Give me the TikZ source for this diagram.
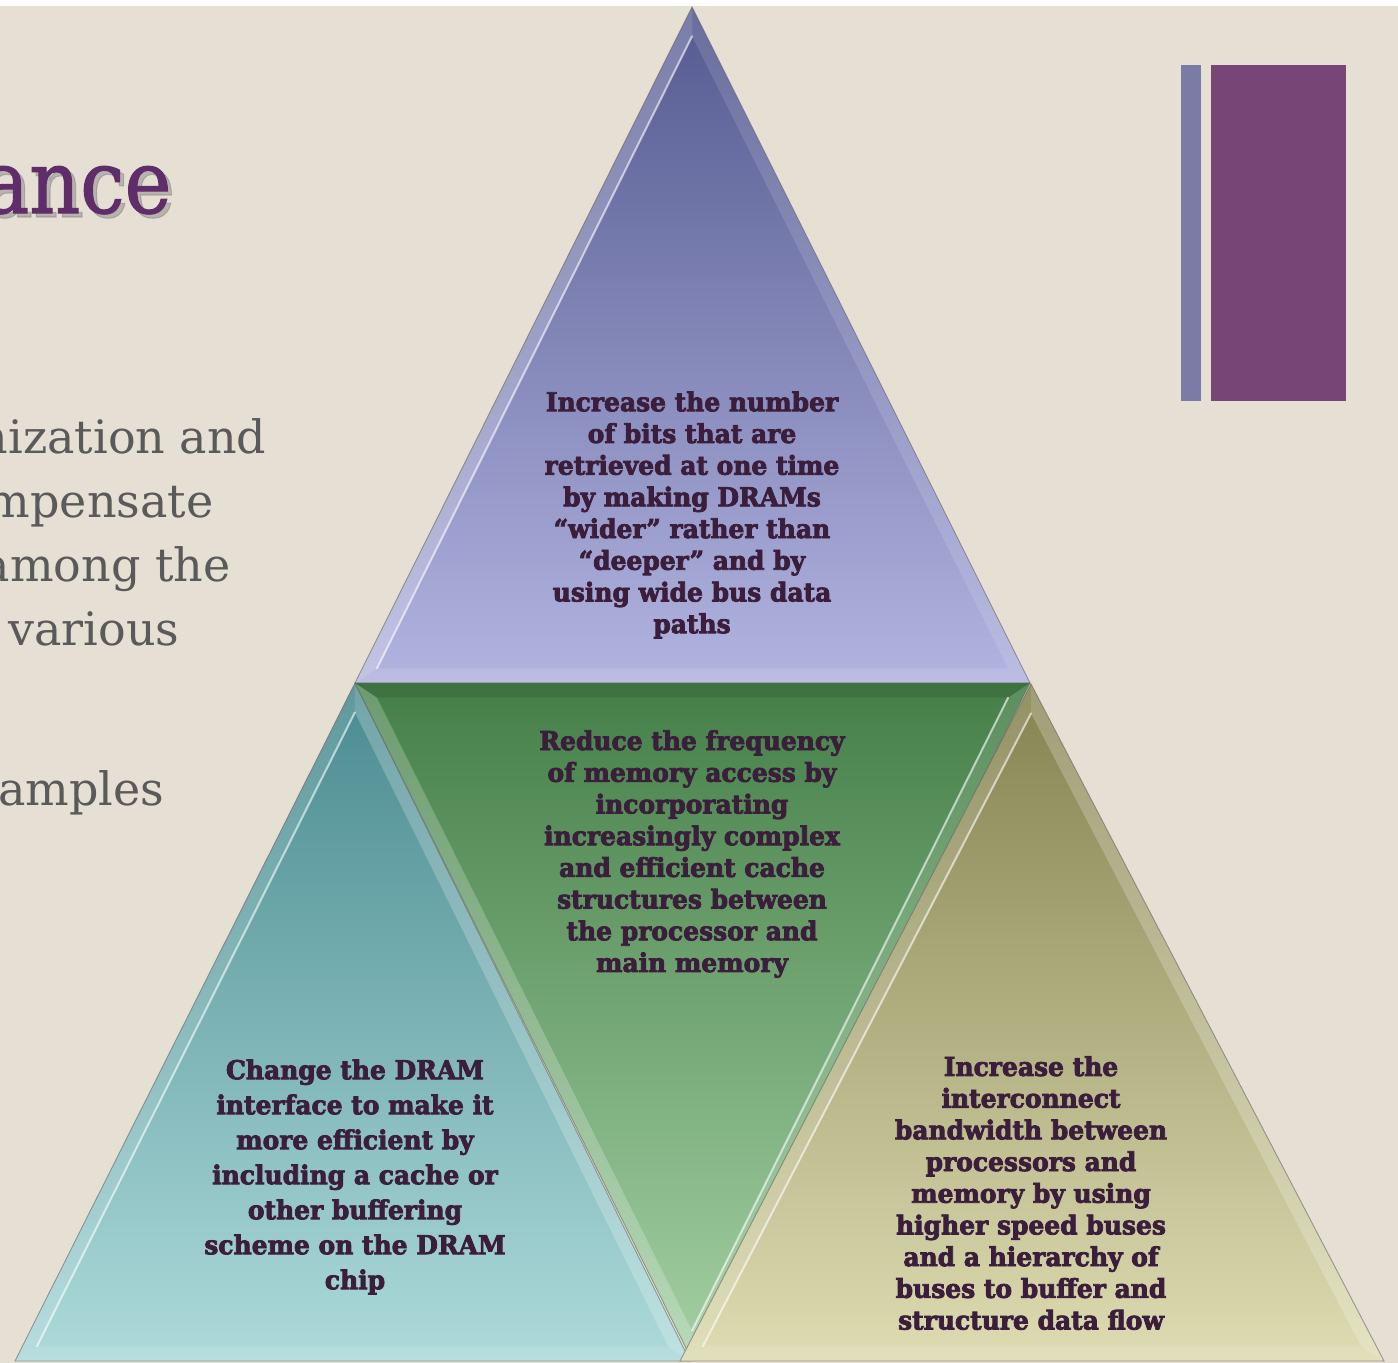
\documentclass[tikz,border=0pt]{standalone}
\usepackage{fontspec}
\setmainfont{DejaVu Serif}
\newfontfamily\trifont{DejaVu Serif}[FakeStretch=0.96, BoldFeatures={FakeBold=3}]
\newfontfamily\headfont{DejaVu Serif}[FakeStretch=0.9, FakeBold=1.2]
\usepackage{tikz}
\usetikzlibrary{calc, positioning}

\definecolor{paper}{HTML}{E6DFD3}
\definecolor{inkplum}{HTML}{3B1E3B}
\definecolor{slidegray}{HTML}{5A5A5A}
\definecolor{titleplum}{HTML}{5E2D6A}
\definecolor{barslate}{HTML}{7B7BA8}
\definecolor{barplum}{HTML}{774576}
\definecolor{topdark}{HTML}{545A90}
\definecolor{toplight}{HTML}{B2B4E0}
\definecolor{tealdark}{HTML}{4A8B90}
\definecolor{teallight}{HTML}{ADDADA}
\definecolor{greendark}{HTML}{457F48}
\definecolor{greenlight}{HTML}{A4D0A4}
\definecolor{olivedark}{HTML}{858350}
\definecolor{olivelight}{HTML}{DDDCB2}

\begin{document}
\begin{tikzpicture}[
    x=1pt, y=-1pt,
    edge/.style={draw=black!60, line width=0.9pt, draw opacity=0.6},
    facelight/.style={fill=white, fill opacity=0.22},
    facesoft/.style={fill=white, fill opacity=0.12},
    facedark/.style={fill=black, fill opacity=0.10},
    shine/.style={draw=white, line width=2pt, draw opacity=0.6, line cap=round},
    tritext/.style={text=inkplum, align=center, font=\trifont\bfseries\fontsize{26}{31.7}\selectfont},
    bodytext/.style={text=slidegray, font=\fontsize{46}{64}\selectfont},
    titletext/.style={font=\headfont\fontsize{88}{100}\selectfont}
]
    \useasboundingbox (0,0) rectangle (1398,1363);
    \clip (0,0) rectangle (1398,1363);

    % Background
    \fill[paper] (0,0) rectangle (1398,1363);
    \fill[white] (0,0) rectangle (1398,6);

    % ========== Slide text (cut at the left) ==========
    \node (title_shadow) [titletext, text=black!55, opacity=0.4, anchor=base east] at (179,217) {ance};
    \node (title) [titletext, text=titleplum, anchor=base east] at (175,213) {ance};
    \node (line_a) [bodytext, anchor=base east] at (270,453) {nization and};
    \node (line_b) [bodytext, anchor=base east] at (217,517) {mpensate};
    \node (line_c) [bodytext, anchor=base east] at (234,581) {among the};
    \node (line_d) [bodytext, anchor=base east] at (183,645) {various};
    \node (line_e) [bodytext, anchor=base east] at (168,805) {amples};

    % ========== Corner bars ==========
    \fill[barslate] (1181,65) rectangle (1201,401);
    \fill[barplum] (1211,65) rectangle (1346,401);

    % ========== Top triangle ==========
    \coordinate (top_a) at (692,7);
    \coordinate (top_b) at (355,683);
    \coordinate (top_c) at (1030,683);
    \coordinate (top_g) at ($(top_a)!2/3!($(top_b)!0.5!(top_c)$)$);
    \coordinate (top_ia) at ($(top_a)!0.065!(top_g)$);
    \coordinate (top_ib) at ($(top_b)!0.065!(top_g)$);
    \coordinate (top_ic) at ($(top_c)!0.065!(top_g)$);
    \shade[top color=topdark, bottom color=toplight] (top_a) -- (top_b) -- (top_c) -- cycle;
    \fill[facelight] (top_a) -- (top_b) -- (top_ib) -- (top_ia) -- cycle;
    \fill[facesoft] (top_a) -- (top_c) -- (top_ic) -- (top_ia) -- cycle;
    \fill[facesoft] (top_b) -- (top_c) -- (top_ic) -- (top_ib) -- cycle;
    \draw[shine] (top_ia) -- (top_ib);
    \draw[edge] (top_a) -- (top_b) -- (top_c) -- cycle;

    % ========== Bottom left triangle ==========
    \coordinate (left_a) at (355,683);
    \coordinate (left_b) at (15,1361);
    \coordinate (left_c) at (690,1361);
    \coordinate (left_g) at ($(left_a)!2/3!($(left_b)!0.5!(left_c)$)$);
    \coordinate (left_ia) at ($(left_a)!0.065!(left_g)$);
    \coordinate (left_ib) at ($(left_b)!0.065!(left_g)$);
    \coordinate (left_ic) at ($(left_c)!0.065!(left_g)$);
    \shade[top color=tealdark, bottom color=teallight] (left_a) -- (left_b) -- (left_c) -- cycle;
    \fill[facesoft] (left_a) -- (left_b) -- (left_ib) -- (left_ia) -- cycle;
    \fill[facelight] (left_a) -- (left_c) -- (left_ic) -- (left_ia) -- cycle;
    \fill[facesoft] (left_b) -- (left_c) -- (left_ic) -- (left_ib) -- cycle;
    \draw[shine] (left_ia) -- (left_ib);
    \draw[edge] (left_a) -- (left_b) -- (left_c) -- cycle;

    % ========== Middle (inverted) triangle ==========
    \coordinate (mid_a) at (692,1360);
    \coordinate (mid_b) at (355,683);
    \coordinate (mid_c) at (1030,683);
    \coordinate (mid_g) at ($(mid_a)!2/3!($(mid_b)!0.5!(mid_c)$)$);
    \coordinate (mid_ia) at ($(mid_a)!0.065!(mid_g)$);
    \coordinate (mid_ib) at ($(mid_b)!0.065!(mid_g)$);
    \coordinate (mid_ic) at ($(mid_c)!0.065!(mid_g)$);
    \shade[top color=greendark, bottom color=greenlight] (mid_a) -- (mid_b) -- (mid_c) -- cycle;
    \fill[facelight] (mid_a) -- (mid_b) -- (mid_ib) -- (mid_ia) -- cycle;
    \fill[facesoft] (mid_a) -- (mid_c) -- (mid_ic) -- (mid_ia) -- cycle;
    \fill[facedark] (mid_b) -- (mid_c) -- (mid_ic) -- (mid_ib) -- cycle;
    \draw[shine] (mid_ia) -- (mid_ic);
    \draw[edge] (mid_a) -- (mid_b) -- (mid_c) -- cycle;

    % ========== Bottom right triangle ==========
    \coordinate (right_a) at (1031,684);
    \coordinate (right_b) at (680,1361);
    \coordinate (right_c) at (1384,1361);
    \coordinate (right_g) at ($(right_a)!2/3!($(right_b)!0.5!(right_c)$)$);
    \coordinate (right_ia) at ($(right_a)!0.065!(right_g)$);
    \coordinate (right_ib) at ($(right_b)!0.065!(right_g)$);
    \coordinate (right_ic) at ($(right_c)!0.065!(right_g)$);
    \shade[top color=olivedark, bottom color=olivelight] (right_a) -- (right_b) -- (right_c) -- cycle;
    \fill[facesoft] (right_a) -- (right_b) -- (right_ib) -- (right_ia) -- cycle;
    \fill[facelight] (right_a) -- (right_c) -- (right_ic) -- (right_ia) -- cycle;
    \fill[facesoft] (right_b) -- (right_c) -- (right_ic) -- (right_ib) -- cycle;
    \draw[shine] (right_ia) -- (right_ib);
    \draw[edge] (right_a) -- (right_b) -- (right_c) -- cycle;

    % ========== Texts ==========
    \node (top_text) [tritext] at (692,515) {Increase the number\\of bits that are\\retrieved at one time\\by making DRAMs\\“wider” rather than\\“deeper” and by\\using wide bus data\\paths};
    \node (mid_text) [tritext] at (692,854) {Reduce the frequency\\of memory access by\\incorporating\\increasingly complex\\and efficient cache\\structures between\\the processor and\\main memory};
    \node (left_text) [tritext, font=\trifont\bfseries\fontsize{26}{35}\selectfont] at (355,1177) {Change the DRAM\\interface to make it\\more efficient by\\including a cache or\\other buffering\\scheme on the DRAM\\chip};
    \node (right_text) [tritext] at (1031,1193) {Increase the\\interconnect\\bandwidth between\\processors and\\memory by using\\higher speed buses\\and a hierarchy of\\buses to buffer and\\structure data flow};
\end{tikzpicture}
\end{document}
